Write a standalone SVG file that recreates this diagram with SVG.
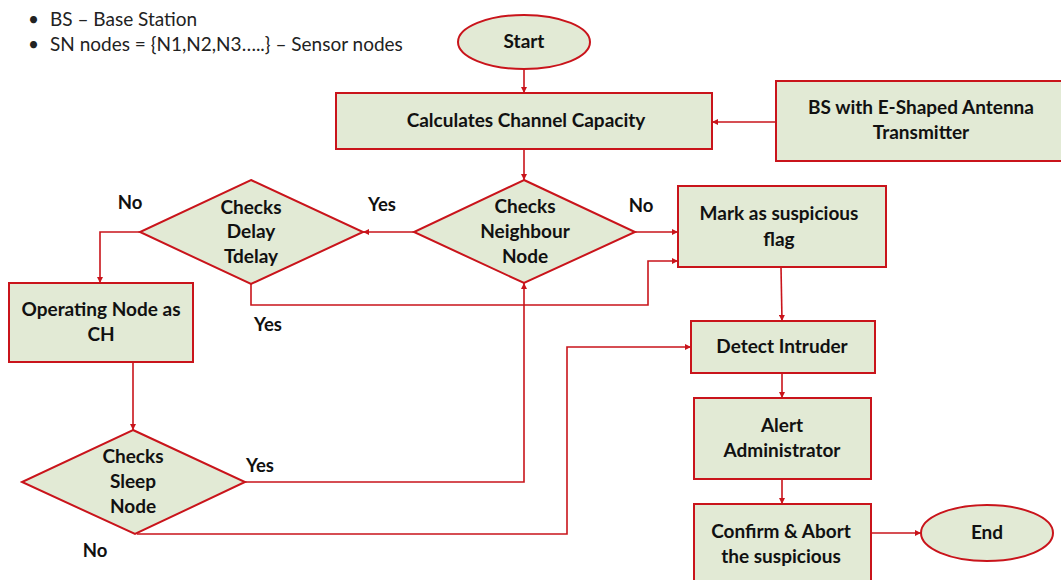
<svg xmlns="http://www.w3.org/2000/svg" width="1061" height="580" viewBox="0 0 1061 580">
<style>
.n{fill:#e2ead5;stroke:#c9141b;stroke-width:2}
.t{font-family:Lato,"Liberation Sans",sans-serif;font-weight:bold;font-size:19px;fill:#111;text-anchor:middle}
.l{font-family:Lato,"Liberation Sans",sans-serif;font-weight:bold;font-size:18.5px;fill:#111;text-anchor:middle}
.g{font-family:Lato,"Liberation Sans",sans-serif;font-size:19px;fill:#222}
.c{fill:none;stroke:#c9141b;stroke-width:1.6;marker-end:url(#a)}
</style>
<defs>
<marker id="a" viewBox="0 0 10 10" refX="10" refY="5" markerWidth="6" markerHeight="6" markerUnits="userSpaceOnUse" orient="auto">
<path d="M0,0 L10,5 L0,10 z" fill="#c9141b"/>
</marker>
</defs>
<rect width="1061" height="580" fill="#fff"/>
<g id="legend">
<text class="g" x="28" y="26">•</text><text class="g" x="50" y="26">BS – Base Station</text>
<text class="g" x="28" y="51">•</text><text class="g" x="50" y="51">SN nodes = {N1,N2,N3…..} – Sensor nodes</text>
</g>
<g id="connectors">
<path class="c" d="M524,69 V93"/>
<path class="c" d="M776,122 H712"/>
<path class="c" d="M524,149 V180"/>
<path class="c" d="M414,232 H363"/>
<path class="c" d="M140,232 H100 V283"/>
<path class="c" d="M251,284 V305 H648 V261 H678"/>
<path class="c" d="M635,232 H678"/>
<path class="c" d="M781,267 L782,321"/>
<path class="c" d="M782,373 V398"/>
<path class="c" d="M782,479 V504"/>
<path class="c" d="M871,533 H921"/>
<path class="c" d="M133,362 V430"/>
<path class="c" d="M245,482 H524 V283"/>
<path class="c" d="M137,534 H567 V347 H691"/>
</g>
<g id="labels">
<text class="l" x="130" y="209">No</text>
<text class="l" x="382" y="211">Yes</text>
<text class="l" x="641" y="212">No</text>
<text class="l" x="268" y="331">Yes</text>
<text class="l" x="260" y="472">Yes</text>
<text class="l" x="95" y="557">No</text>
</g>
<g id="start"><ellipse class="n" cx="524" cy="42" rx="66" ry="27"/><text class="t" x="524" y="48">Start</text></g>
<g id="calc"><rect class="n" x="336" y="93" width="376" height="56"/><text class="t" x="526" y="127">Calculates Channel Capacity</text></g>
<g id="bs"><rect class="n" x="776" y="81" width="290" height="80"/><text class="t" x="921" y="114">BS with E-Shaped Antenna</text><text class="t" x="921" y="139">Transmitter</text></g>
<g id="neighbour"><polygon class="n" points="524,180 635,232 524,283 414,232"/><text class="t" x="525" y="213">Checks</text><text class="t" x="525" y="238">Neighbour</text><text class="t" x="525" y="263">Node</text></g>
<g id="delay"><polygon class="n" points="251,180 363,232 251,284 140,232"/><text class="t" x="251" y="214">Checks</text><text class="t" x="251" y="238">Delay</text><text class="t" x="251" y="263">Tdelay</text></g>
<g id="operating"><rect class="n" x="9" y="283" width="184" height="79"/><text class="t" x="101" y="316">Operating Node as</text><text class="t" x="101" y="341">CH</text></g>
<g id="sleep"><polygon class="n" points="133,430 245,482 135,534 22,482"/><text class="t" x="133" y="463">Checks</text><text class="t" x="133" y="488">Sleep</text><text class="t" x="133" y="513">Node</text></g>
<g id="mark"><rect class="n" x="678" y="186" width="208" height="81"/><text class="t" x="779" y="220">Mark as suspicious</text><text class="t" x="779" y="246">flag</text></g>
<g id="detect"><rect class="n" x="691" y="321" width="184" height="52"/><text class="t" x="782" y="353">Detect Intruder</text></g>
<g id="alert"><rect class="n" x="694" y="398" width="177" height="81"/><text class="t" x="782" y="432">Alert</text><text class="t" x="782" y="457">Administrator</text></g>
<g id="confirm"><rect class="n" x="694" y="504" width="177" height="84"/><text class="t" x="781" y="538">Confirm &amp; Abort</text><text class="t" x="781" y="563">the suspicious</text></g>
<g id="end"><ellipse class="n" cx="987" cy="533" rx="66" ry="28"/><text class="t" x="987" y="539">End</text></g>
</svg>
